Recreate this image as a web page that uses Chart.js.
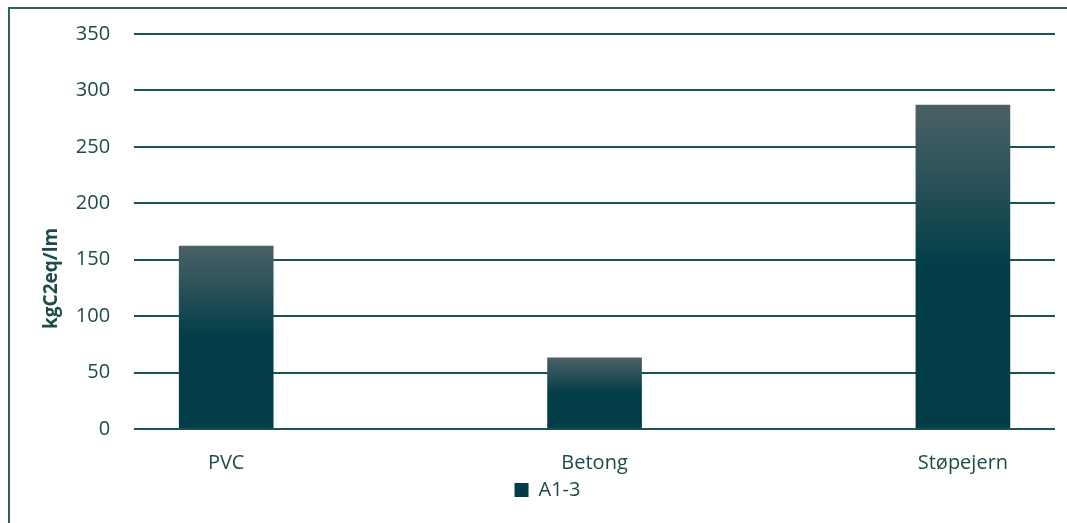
<!DOCTYPE html>
<html lang="no">
<head>
    <meta charset="UTF-8">
    <title>A1-3 kgC2eq/lm</title>
    <script src="https://cdn.jsdelivr.net/npm/chart.js"></script>
    <style>
        html, body { margin: 0; padding: 0; background: #fff; overflow: hidden; }
        #frame {
            position: absolute;
            left: 8px;
            top: 7px;
            width: 1075px;
            height: 540px;
            border-left: 2px solid #2e6062;
            border-top: 2px solid #2e6062;
        }
        #chartBox {
            position: absolute;
            left: 10px;
            top: -2px;
            width: 1075px;
            height: 540px;
        }
    </style>
</head>
<body>
    <div id="frame"></div>
    <div id="chartBox">
        <canvas id="lcaChart"></canvas>
    </div>

    <script>
        // data
        const categories = ['PVC', 'Betong', 'Støpejern'];
        const a13Values = [162, 63, 287];
        const seriesName = 'A1-3';
        const yAxisTitle = 'kgC2eq/lm';
        const yMax = 350;
        const yStep = 50;

        const textColor = '#1c4b49';
        const gridColor = '#1b5553';

        function barFill(ctx) {
            const chart = ctx.chart;
            if (!chart.chartArea || ctx.type !== 'data') {
                return '#0d4750';
            }
            const yScale = chart.scales.y;
            const top = yScale.getPixelForValue(ctx.parsed.y);
            const base = yScale.getPixelForValue(0);
            const g = chart.ctx.createLinearGradient(0, top, 0, base);
            g.addColorStop(0, '#4b6166');
            g.addColorStop(0.5, '#033e48');
            g.addColorStop(1, '#023c46');
            return g;
        }

        const points = categories.map((c, i) => ({ x: i, y: a13Values[i] }));

        const ctx = document.getElementById('lcaChart').getContext('2d');
        new Chart(ctx, {
            type: 'bar',
            data: {
                datasets: [{
                    label: seriesName,
                    data: points,
                    backgroundColor: barFill,
                    barThickness: 94
                }]
            },
            options: {
                responsive: true,
                maintainAspectRatio: false,
                animation: false,
                layout: {
                    padding: { top: 15, left: 30, right: 30, bottom: 28 }
                },
                scales: {
                    x: {
                        type: 'linear',
                        offset: false,
                        min: -0.25,
                        max: 2.25,
                        afterBuildTicks: (axis) => {
                            axis.ticks = categories.map((c, i) => ({ value: i }));
                        },
                        // keep the label band tight so the legend sits close under it
                        afterFit: (axis) => {
                            axis.height = 46;
                        },
                        ticks: {
                            callback: (v) => categories[v],
                            color: textColor,
                            font: { family: 'Open Sans', size: 20 },
                            padding: 22,
                            maxRotation: 0,
                            autoSkip: false
                        },
                        grid: { display: false, drawTicks: false },
                        border: { display: false }
                    },
                    y: {
                        min: 0,
                        max: yMax,
                        ticks: {
                            stepSize: yStep,
                            color: textColor,
                            font: { family: 'Open Sans', size: 20 },
                            padding: 24
                        },
                        grid: {
                            color: gridColor,
                            lineWidth: 2,
                            drawTicks: false
                        },
                        border: { display: false },
                        title: {
                            display: true,
                            // trailing spaces push the label down like in the original
                            text: yAxisTitle + '\u00a0'.repeat(19),
                            color: textColor,
                            font: { family: 'Open Sans', size: 19, weight: 'bold' },
                            padding: { top: 0, bottom: -11 }
                        }
                    }
                },
                plugins: {
                    legend: {
                        position: 'bottom',
                        labels: {
                            color: textColor,
                            font: { family: 'Open Sans', size: 20 },
                            boxWidth: 14,
                            boxHeight: 14,
                            padding: 5
                        }
                    },
                    tooltip: { enabled: false }
                }
            }
        });
    </script>
</body>
</html>
